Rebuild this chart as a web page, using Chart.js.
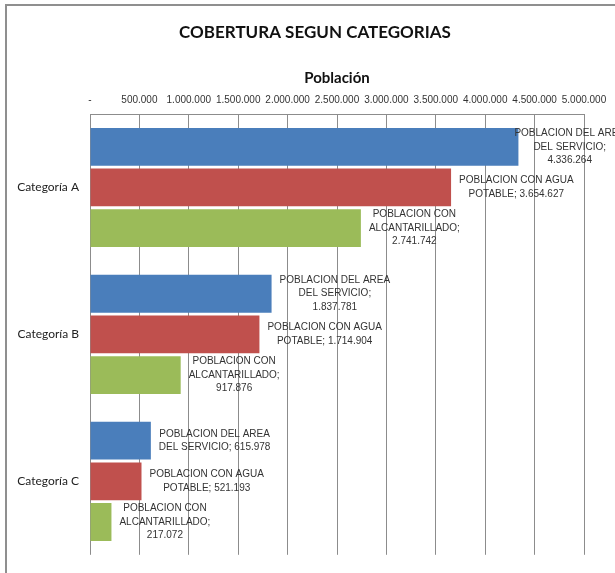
<!DOCTYPE html>
<html>
<head>
<meta charset="utf-8">
<script src="https://cdn.jsdelivr.net/npm/chart.js@4.4.1/dist/chart.umd.min.js"></script>
<style>
  html, body { margin: 0; padding: 0; background: #fff; overflow: hidden; }
  #frame { position: absolute; left: 5px; top: 4px; width: 700px; height: 700px;
           border-left: 2px solid #8f8f8f; border-top: 2px solid #8f8f8f; }
  #wrap { position: absolute; left: 7px; top: 6px; width: 616px; height: 567px; }
</style>
</head>
<body>
<div id="frame"></div>
<div id="wrap"><canvas id="myChart"></canvas></div>
<script>
/*----------------------------Datos------------------------------------*/
var categorias = ["Categoría A", "Categoría B", "Categoría C"];
var areaServicio = [4336264, 1837781, 615978];
var aguaPotable = [3654627, 1714904, 521193];
var alcantarillado = [2741742, 917876, 217072];
var xTicks = [0, 500000, 1000000, 1500000, 2000000, 2500000, 3000000, 3500000, 4000000, 4500000, 5000000];

function fmt(n) {
  return String(n).replace(/\B(?=(\d{3})+(?!\d))/g, ".");
}

// etiquetas tipo Excel: "SERIE; valor" con ajuste de linea
var labelFont = "10px 'Liberation Sans', Arial, sans-serif";
function wrap(ctx, text, maxW) {
  var words = text.split(" ");
  var lines = [];
  var cur = "";
  words.forEach(function (w) {
    var test = cur ? cur + " " + w : w;
    if (cur && ctx.measureText(test).width > maxW) {
      lines.push(cur);
      cur = w;
    } else {
      cur = test;
    }
  });
  if (cur) lines.push(cur);
  return lines;
}

var barLabels = {
  id: "barLabels",
  afterDatasetsDraw: function (chart) {
    var ctx = chart.ctx;
    ctx.save();
    ctx.font = labelFont;
    ctx.fillStyle = "#333";
    ctx.textAlign = "center";
    ctx.textBaseline = "middle";
    chart.data.datasets.forEach(function (ds, i) {
      var meta = chart.getDatasetMeta(i);
      meta.data.forEach(function (bar, j) {
        var lines = wrap(ctx, ds.label + "; " + fmt(ds.data[j]), 117);
        var w = 0;
        lines.forEach(function (l) { w = Math.max(w, ctx.measureText(l).width); });
        var left = Math.min(bar.x + 8, chart.width - w + 2);
        var lh = 13.5;
        var y0 = bar.y - (lines.length - 1) * lh / 2;
        lines.forEach(function (l, k) {
          ctx.fillText(l, left + w / 2, y0 + k * lh);
        });
      });
    });
    ctx.restore();
  }
};

new Chart("myChart", {
  type: "bar",
  data: {
    labels: categorias,
    datasets: [
      { label: "POBLACION DEL AREA DEL SERVICIO", data: areaServicio, backgroundColor: "#4a7ebb" },
      { label: "POBLACION CON AGUA POTABLE", data: aguaPotable, backgroundColor: "#c0504d" },
      { label: "POBLACION CON ALCANTARILLADO", data: alcantarillado, backgroundColor: "#9bbb59" }
    ]
  },
  options: {
    indexAxis: "y",
    responsive: true,
    maintainAspectRatio: false,
    animation: false,
    categoryPercentage: 0.83,
    barPercentage: 0.93,
    layout: { padding: { left: 0, right: 0, top: 0, bottom: 16 } },
    plugins: {
      legend: { display: false },
      tooltip: { enabled: false },
      title: {
        display: true,
        text: "COBERTURA SEGUN CATEGORIAS",
        color: "#111",
        font: { family: "Lato", size: 17, weight: "bold" },
        padding: { top: 16, bottom: 0 }
      }
    },
    scales: {
      x: {
        position: "top",
        min: 0,
        max: 5000000,
        afterBuildTicks: function (s) {
          s.ticks = xTicks.map(function (v) { return { value: v }; });
        },
        afterFit: function (s) { s.height = 71.6; },
        ticks: {
          padding: 8,
          maxRotation: 0,
          autoSkip: false,
          color: "#333",
          font: { family: "'Liberation Sans', sans-serif", size: 10 },
          callback: function (v) { return v === 0 ? "-" : fmt(v); }
        },
        grid: { color: "#8c8c8c", drawTicks: false, lineWidth: 1 },
        border: { display: true, color: "#8c8c8c" },
        title: {
          display: true,
          text: "Población",
          color: "#111",
          font: { family: "Lato", size: 15, weight: "bold" },
          padding: { top: 26.6, bottom: 0 }
        }
      },
      y: {
        afterFit: function (s) { s.width = 83; },
        ticks: {
          padding: 11,
          color: "#222",
          font: { family: "Lato", size: 12 }
        },
        grid: { display: false, drawTicks: false },
        border: { display: false }
      },
      // espacio vacio a la derecha del area de trazado
      margen: {
        type: "category",
        axis: "y",
        position: "right",
        afterFit: function (s) { s.width = 39; },
        ticks: { display: false },
        grid: { display: false, drawTicks: false },
        border: { display: false }
      }
    }
  },
  plugins: [barLabels]
});
</script>
</body>
</html>
